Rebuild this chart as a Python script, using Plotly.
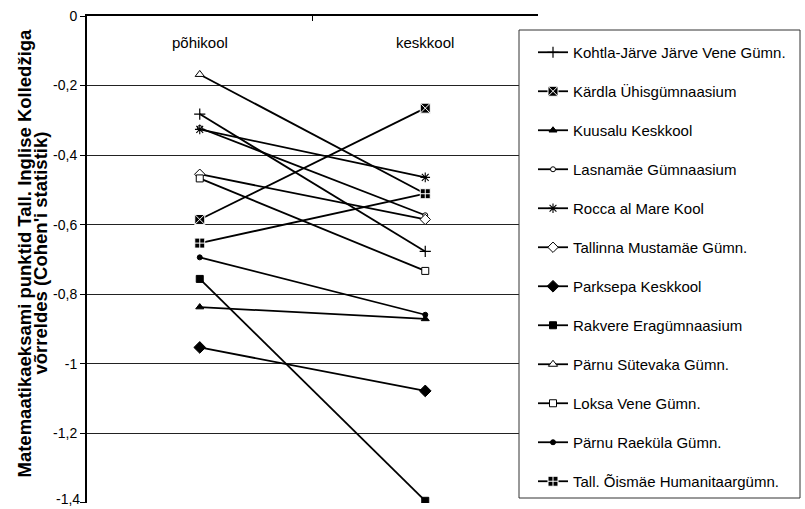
import plotly.graph_objects as go

categories = ["põhikool", "keskkool"]

schools = [
    "Kohtla-Järve Järve Vene Gümn.",
    "Kärdla Ühisgümnaasium",
    "Kuusalu Keskkool",
    "Lasnamäe Gümnaasium",
    "Rocca al Mare Kool",
    "Tallinna Mustamäe Gümn.",
    "Parksepa Keskkool",
    "Rakvere Eragümnaasium",
    "Pärnu Sütevaka Gümn.",
    "Loksa Vene Gümn.",
    "Pärnu Raeküla Gümn.",
    "Tall. Õismäe Humanitaargümn.",
]

pohikool = [-0.282, -0.585, -0.837, -0.322, -0.326, -0.455, -0.953, -0.756, -0.168, -0.467, -0.694, -0.653]
keskkool = [-0.677, -0.265, -0.871, -0.573, -0.464, -0.585, -1.078, -1.394, -0.511, -0.733, -0.859, -0.511]

y_ticks = [0, -0.2, -0.4, -0.6, -0.8, -1.0, -1.2, -1.4]
y_tick_labels = ["0", "-0,2", "-0,4", "-0,6", "-0,8", "-1", "-1,2", "-1,4"]

y_title_lines = ["Matemaatikaeksami punktid Tall. Inglise Kolledžiga",
                 "võrreldes (Cohen'i statistik)"]

# marker styles per series: (symbol, fill, line colour, line width, size)
styles = [
    ("cross-thin", "black", "black", 1.2, 8),
    ("square-x", "black", "white", 1.0, 10),
    ("triangle-up", "black", "black", 1, 7),
    ("circle", "white", "black", 1, 5),
    ("asterisk", "black", "black", 1.1, 8),
    ("diamond", "white", "black", 1, 8),
    ("diamond", "black", "black", 1, 9),
    ("square", "black", "black", 1, 7),
    ("triangle-up", "white", "black", 1, 8),
    ("square", "white", "black", 1, 7),
    ("circle", "black", "black", 1, 5),
    ("square-cross", "black", "white", 1.0, 10),
]

FONT = "Liberation Sans, Arial, sans-serif"

fig = go.Figure()
for i, name in enumerate(schools):
    sym, fill, lc, lw, sz = styles[i]
    fig.add_trace(go.Scatter(
        x=categories,
        y=[pohikool[i], keskkool[i]],
        mode="lines+markers",
        name=name,
        legendgroup=f"g{i}",
        line=dict(color="black", width=1.8),
        marker=dict(symbol=sym, color=fill, size=sz, line=dict(color=lc, width=lw)),
    ))

L, R, T, B = 87, 805 - 538, 16, 509 - 503
W = 805 - L - R
H = 509 - T - B


def px_x(p):
    return (p - L) / W


def px_y(q):
    return (509 - B - q) / H


annotations = []
for c in categories:
    annotations.append(dict(
        x=c, xref="x", y=px_y(43), yref="paper",
        text=c, showarrow=False, xanchor="center", yanchor="middle",
        font=dict(family=FONT, size=15, color="black"),
    ))
for j, (line, cx) in enumerate(zip(y_title_lines, [23.5, 39.5])):
    annotations.append(dict(
        x=px_x(cx), xref="paper", y=px_y(253), yref="paper",
        text=f"<b>{line}</b>", showarrow=False, textangle=-90,
        xanchor="center", yanchor="middle",
        font=dict(family=FONT, size=18.5, color="black"),
    ))
# bottom tick label (plotly drops it because it touches the page edge)
annotations.append(dict(
    x=px_x(80), xref="paper", y=y_ticks[-1], yref="y",
    text=y_tick_labels[-1], showarrow=False, xanchor="right", yanchor="middle",
    xshift=2, yshift=4,
    font=dict(family=FONT, size=14, color="black"),
))

fig.update_layout(
    width=805,
    height=509,
    margin=dict(l=L, r=R, t=T, b=B, autoexpand=False),
    paper_bgcolor="white",
    plot_bgcolor="white",
    font=dict(family=FONT, color="black", size=14),
    showlegend=True,
    legend=dict(
        x=px_x(533), xanchor="left",
        y=px_y(36), yanchor="top",
        bgcolor="rgba(0,0,0,0)",
        borderwidth=0,
        font=dict(family=FONT, size=15, color="black"),
        tracegroupgap=16.5,
        itemwidth=30,
    ),
    xaxis=dict(
        type="category",
        range=[-0.5, 1.5],
        side="top",
        showline=True,
        linecolor="black",
        linewidth=2,
        ticks="inside",
        ticklen=5,
        tickcolor="black",
        tickson="boundaries",
        showticklabels=False,
        showgrid=False,
        zeroline=False,
    ),
    yaxis=dict(
        range=[-1.4003, 0],
        tickvals=y_ticks,
        ticktext=y_tick_labels,
        showline=True,
        linecolor="black",
        linewidth=2,
        ticks="outside",
        ticklen=5,
        tickcolor="black",
        showgrid=True,
        gridcolor="#222",
        gridwidth=1,
        zeroline=False,
        tickfont=dict(family=FONT, size=14, color="black"),
    ),
    annotations=annotations,
    shapes=[
        dict(
            type="rect", xref="paper", yref="paper",
            x0=px_x(519), x1=px_x(800), y0=px_y(498), y1=px_y(30),
            fillcolor="white", line=dict(color="#333", width=1),
            layer="above",
        )
    ],
)

fig.write_html(
    "out.html",
    config={"displayModeBar": False},
    post_script="document.body.style.margin='0';document.body.style.overflow='hidden';",
)
